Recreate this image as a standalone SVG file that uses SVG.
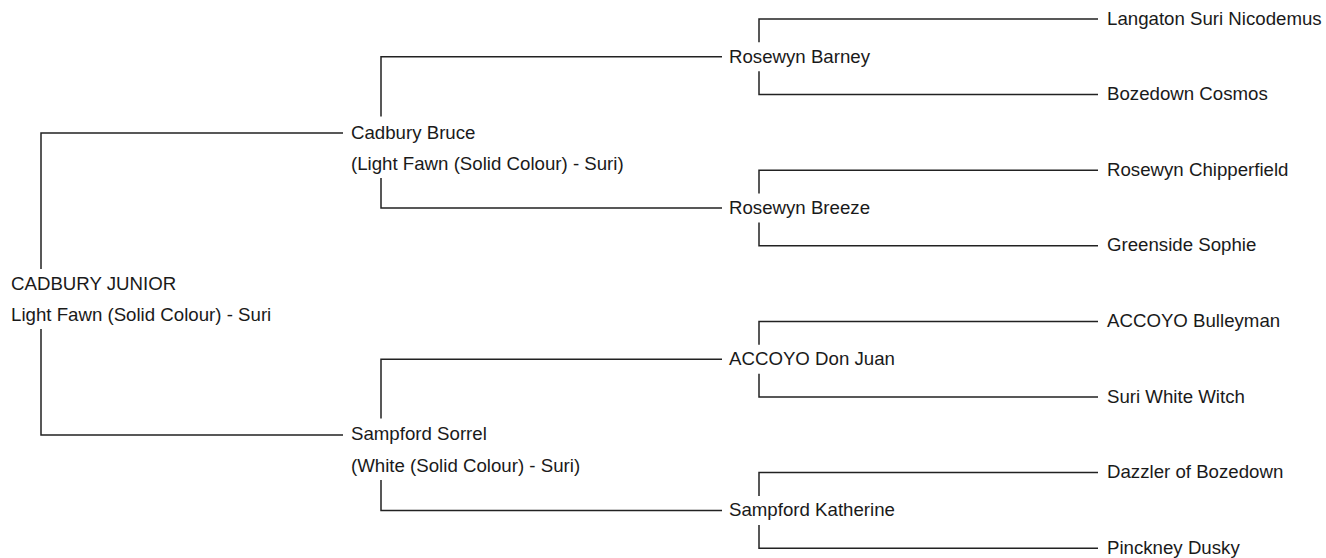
<svg xmlns="http://www.w3.org/2000/svg" width="1326" height="558" viewBox="0 0 1326 558">
<style>
text{font-family:"Liberation Sans",Arial,sans-serif;font-size:18.67px;fill:#1a1a1a}
.c path{fill:none;stroke:#222;stroke-width:1.5}
</style>
<rect width="1326" height="558" fill="#fff"/>
<g class="c" id="connectors">
<path d="M343,133 H41 V269 M41,329 V435 H343"/>
<path d="M722,56.8 H381 V116.5 M381,178 V208 H722"/>
<path d="M722,359.2 H381 V418.5 M381,480 V510.4 H722"/>
<path d="M1098,19 H759 V42.3 M759,71.3 V94.6 H1098"/>
<path d="M1098,170.2 H759 V193.5 M759,222.5 V245.8 H1098"/>
<path d="M1098,321.4 H759 V344.7 M759,373.7 V397 H1098"/>
<path d="M1098,472.6 H759 V495.9 M759,524.9 V548.2 H1098"/>
</g>
<g id="root"><text x="11" y="289.5">CADBURY JUNIOR</text><text x="11" y="321">Light Fawn (Solid Colour) - Suri</text></g>
<g id="sire"><text x="351" y="138.5">Cadbury Bruce</text><text x="351" y="170">(Light Fawn (Solid Colour) - Suri)</text></g>
<g id="dam"><text x="351" y="440">Sampford Sorrel</text><text x="351" y="471.5">(White (Solid Colour) - Suri)</text></g>
<g id="ss"><text x="729" y="62.8">Rosewyn Barney</text></g>
<g id="sd"><text x="729" y="214">Rosewyn Breeze</text></g>
<g id="ds"><text x="729" y="365.2">ACCOYO Don Juan</text></g>
<g id="dd"><text x="729" y="516.4">Sampford Katherine</text></g>
<g id="sss"><text x="1107" y="24.5">Langaton Suri Nicodemus</text></g>
<g id="ssd"><text x="1107" y="100.1">Bozedown Cosmos</text></g>
<g id="sds"><text x="1107" y="175.7">Rosewyn Chipperfield</text></g>
<g id="sdd"><text x="1107" y="251.3">Greenside Sophie</text></g>
<g id="dss"><text x="1107" y="326.9">ACCOYO Bulleyman</text></g>
<g id="dsd"><text x="1107" y="402.5">Suri White Witch</text></g>
<g id="dds"><text x="1107" y="478.1">Dazzler of Bozedown</text></g>
<g id="ddd"><text x="1107" y="553.7">Pinckney Dusky</text></g>
</svg>
